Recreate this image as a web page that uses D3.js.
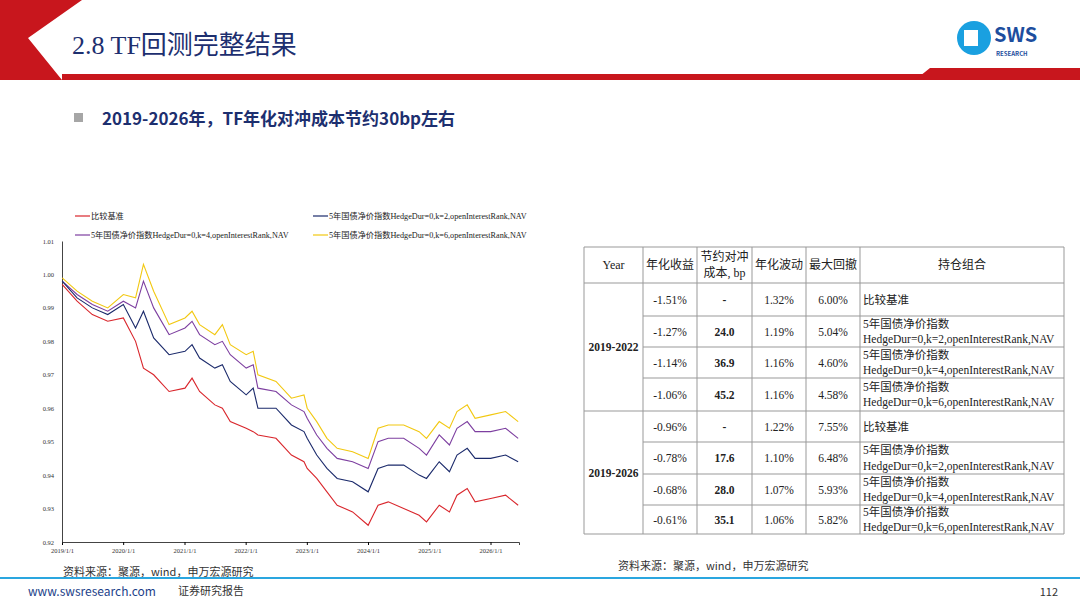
<!DOCTYPE html>
<html><head><meta charset="utf-8">
<script src="https://cdn.jsdelivr.net/npm/d3@7"></script>
<style>
body{margin:0;background:#fff;font-family:"Noto Sans CJK SC","Noto Sans",sans-serif;}
svg text{font-family:"Liberation Serif","Noto Sans CJK SC",serif;}
.sans{font-family:"Noto Sans CJK SC","Noto Sans",sans-serif !important;}
</style></head><body>
<svg id="s" width="1080" height="608"></svg>
<script>
// chart data
const dates = ["2019-01-02","2019-04-01","2019-07-01","2019-10-01","2020-01-02","2020-03-15","2020-05-01","2020-07-01","2020-10-01","2021-01-04",
"2021-02-15","2021-04-01","2021-07-01","2021-08-15","2021-10-01","2022-01-04","2022-02-15","2022-03-15","2022-07-01","2022-10-01",
"2022-12-15","2023-01-03","2023-03-01","2023-05-01","2023-07-01","2023-10-01","2024-01-02","2024-03-01","2024-05-01","2024-08-01",
"2024-11-01","2024-12-15","2025-03-01","2025-05-01","2025-06-15","2025-08-15","2025-10-01","2026-01-02","2026-04-01","2026-06-15"];
const bench = [.997,.992,.988,.986,.987,.980,.972,.970,.965,.966, .969,.965,.961,.960,.956,.954,.953,.952,.951,.946, .944,.942,.939,.935,.931,.929,.925,.931,.932,.930, .928,.926,.931,.929,.934,.936,.932,.933,.934,.931];
const k2 = [.998,.993,.990,.988,.991,.984,.989,.981,.976,.977, .979,.975,.972,.973,.968,.964,.966,.960,.960,.955, .953,.951,.946,.942,.939,.938,.935,.942,.943,.943, .940,.939,.944,.941,.946,.948,.945,.945,.946,.944];
const k4 = [.998,.994,.991,.989,.992,.990,.998,.990,.982,.984, .986,.982,.979,.980,.976,.972,.973,.966,.965,.961, .959,.957,.952,.948,.945,.944,.942,.950,.951,.951, .948,.946,.952,.949,.954,.956,.953,.953,.954,.951];
const k6 = [.999,.995,.992,.990,.994,.993,1.003,.995,.985,.987, .989,.985,.982,.985,.979,.976,.977,.970,.968,.963, .964,.960,.956,.951,.948,.947,.945,.954,.955,.955, .953,.951,.956,.954,.959,.961,.957,.958,.959,.956];
const seriesNames = ["比较基准","5年国债净价指数HedgeDur=0,k=2,openInterestRank,NAV","5年国债净价指数HedgeDur=0,k=4,openInterestRank,NAV","5年国债净价指数HedgeDur=0,k=6,openInterestRank,NAV"];
const colors = ["#d9262c","#1b2a6b","#7d3fa0","#f2c811"];
const yTicks = [0.92,0.93,0.94,0.95,0.96,0.97,0.98,0.99,1.00,1.01];
const xTicks = ["2019-01-01","2020-01-01","2021-01-01","2022-01-01","2023-01-01","2024-01-01","2025-01-01","2026-01-01"];

// table data
const headers = ["Year","年化收益","节约对冲\n成本, bp","年化波动","最大回撤","持仓组合"];
const periods = ["2019-2022","2019-2026"];
const retn = ["-1.51%","-1.27%","-1.14%","-1.06%","-0.96%","-0.78%","-0.68%","-0.61%"];
const saving = ["-","24.0","36.9","45.2","-","17.6","28.0","35.1"];
const vol = ["1.32%","1.19%","1.16%","1.16%","1.22%","1.10%","1.07%","1.06%"];
const mdd = ["6.00%","5.04%","4.60%","4.58%","7.55%","6.48%","5.93%","5.82%"];
const portf = ["比较基准","5年国债净价指数\nHedgeDur=0,k=2,openInterestRank,NAV","5年国债净价指数\nHedgeDur=0,k=4,openInterestRank,NAV","5年国债净价指数\nHedgeDur=0,k=6,openInterestRank,NAV"];

const svg = d3.select("#s");

// slide header
svg.append("path").attr("d","M0,0 L82,0 L28,38 L62,80 L0,80 Z").attr("fill","#c8161d");
svg.append("path").attr("d","M62,74 L1080,74 L1080,80 L62,80 Z").attr("fill","#c8161d");
svg.append("path").attr("d","M915,80 L930,68 L1080,68 L1080,80 Z").attr("fill","#c8161d");
svg.append("text").attr("x",72).attr("y",54).attr("fill","#1d2f6f").attr("font-size",26)
  .style("font-family","'Liberation Serif','Noto Sans CJK SC',serif").text("2.8 TF回测完整结果");
// logo
const logo = svg.append("g").attr("transform","translate(958,20)");
logo.append("circle").attr("cx",16).attr("cy",18).attr("r",17).attr("fill","#1aa0e0");
logo.append("rect").attr("x",6).attr("y",10).attr("width",14).attr("height",16).attr("fill","#fff");
logo.append("text").attr("class","sans").attr("x",36).attr("y",22).attr("font-size",20).attr("font-weight","bold").attr("fill","#1d4e9e").text("SWS");
logo.append("text").attr("class","sans").attr("x",38).attr("y",36).attr("font-size",6).attr("font-weight","bold").attr("fill","#1d4e9e").text("RESEARCH");

svg.append("rect").attr("x",74).attr("y",113).attr("width",9).attr("height",9).attr("fill","#a6a6a6");
svg.append("text").attr("class","sans").attr("x",102).attr("y",125).attr("font-size",17).attr("font-weight","bold").attr("fill","#1d2f6f")
  .text("2019-2026年，TF年化对冲成本节约30bp左右");

// line chart
const parse = d3.timeParse("%Y-%m-%d");
const x = d3.scaleTime().domain([parse("2019-01-01"),parse("2026-06-20")]).range([62,519]);
const y = d3.scaleLinear().domain([0.92,1.01]).range([542,241]);
const ax = svg.append("g").attr("transform","translate(0,542)")
  .call(d3.axisBottom(x).tickValues(xTicks.map(parse)).tickFormat(d3.timeFormat("%Y/%-m/%-d")).tickSize(3));
ax.selectAll("text").attr("font-size",6.5).attr("fill","#333");
const ay = svg.append("g").attr("transform","translate(62,0)")
  .call(d3.axisLeft(y).tickValues(yTicks).tickFormat(d3.format(".2f")).tickSize(0).tickPadding(8));
ay.selectAll("text").attr("font-size",6.5).attr("fill","#333");
[ax,ay].forEach(g=>g.select(".domain").attr("stroke","#444"));

const all = [bench,k2,k4,k6];
const line = d3.line().x((d,i)=>x(parse(dates[i]))).y(d=>y(d));
[3,2,1,0].forEach(i=>{
  svg.append("path").datum(all[i]).attr("d",line).attr("fill","none").attr("stroke",colors[i]).attr("stroke-width",1.1);
});
// legend
const legPos = [[75,216],[313,216],[75,235],[313,235]];
seriesNames.forEach((n,i)=>{
  const g = svg.append("g").attr("transform",`translate(${legPos[i][0]},${legPos[i][1]})`);
  g.append("line").attr("x1",0).attr("x2",15).attr("y1",0).attr("y2",0).attr("stroke",colors[i]).attr("stroke-width",1.2);
  g.append("text").attr("x",16).attr("y",3).attr("font-size",8.2).attr("fill","#222").text(n);
});

svg.append("text").attr("class","sans").attr("x",63).attr("y",576).attr("font-size",11).attr("fill","#333").text("资料来源：聚源，wind，申万宏源研究");

// table
const cx = [584,643,697,752,806,860,1064];
const ry = [247,283,316,347,378,411,442,474,505,534];
const t = svg.append("g");
const tline = (x1,y1,x2,y2)=>t.append("line").attr("x1",x1).attr("y1",y1).attr("x2",x2).attr("y2",y2).attr("stroke","#999").attr("stroke-width",1);
tline(cx[0],ry[0],cx[6],ry[0]); tline(cx[0],ry[1],cx[6],ry[1]);
tline(cx[0],ry[5],cx[6],ry[5]); tline(cx[0],ry[9],cx[6],ry[9]);
[2,3,4,6,7,8].forEach(r=>tline(cx[1],ry[r],cx[6],ry[r]));
cx.forEach(c=>tline(c,ry[0],c,ry[9]));
const cellText = (txt,cxm,cym,opts={})=>{
  const lines = txt.split("\n");
  const fs = opts.fs||11.5;
  const el = t.append("text").attr("x",cxm).attr("text-anchor",opts.anchor||"middle").attr("font-size",fs)
    .attr("fill","#222").attr("font-weight",opts.bold?"bold":null);
  lines.forEach((l,j)=>el.append("tspan").attr("x",cxm).attr("y",cym+fs*0.35+(j-(lines.length-1)/2)*(fs*1.35)).text(l));
};
headers.forEach((h,i)=>cellText(h,(cx[i]+cx[i+1])/2,(ry[0]+ry[1])/2,{fs:12}));
periods.forEach((p,i)=>cellText(p,(cx[0]+cx[1])/2,(ry[1+4*i]+ry[5+4*i])/2,{bold:true,fs:11.5}));
retn.forEach((v,r)=>{
  const ym = (ry[r+1]+ry[r+2])/2;
  cellText(v,(cx[1]+cx[2])/2,ym);
  cellText(saving[r],(cx[2]+cx[3])/2,ym,{bold:true});
  cellText(vol[r],(cx[3]+cx[4])/2,ym);
  cellText(mdd[r],(cx[4]+cx[5])/2,ym);
  cellText(portf[r%4],cx[5]+3,ym,{anchor:"start",fs:11.5});
});
svg.append("text").attr("class","sans").attr("x",618).attr("y",570).attr("font-size",11).attr("fill","#333").text("资料来源：聚源，wind，申万宏源研究");

// footer
svg.append("rect").attr("x",0).attr("y",577).attr("width",1080).attr("height",2).attr("fill","#2aa6df");
svg.append("text").attr("class","sans").attr("x",28).attr("y",596).attr("font-size",12).attr("fill","#1d3f8a").text("www.swsresearch.com");
svg.append("text").attr("class","sans").attr("x",178).attr("y",595).attr("font-size",11).attr("fill","#333").text("证券研究报告");
svg.append("text").attr("class","sans").attr("x",1058).attr("y",596).attr("text-anchor","end").attr("font-size",11).attr("fill","#333").text("112");
</script></body></html>
